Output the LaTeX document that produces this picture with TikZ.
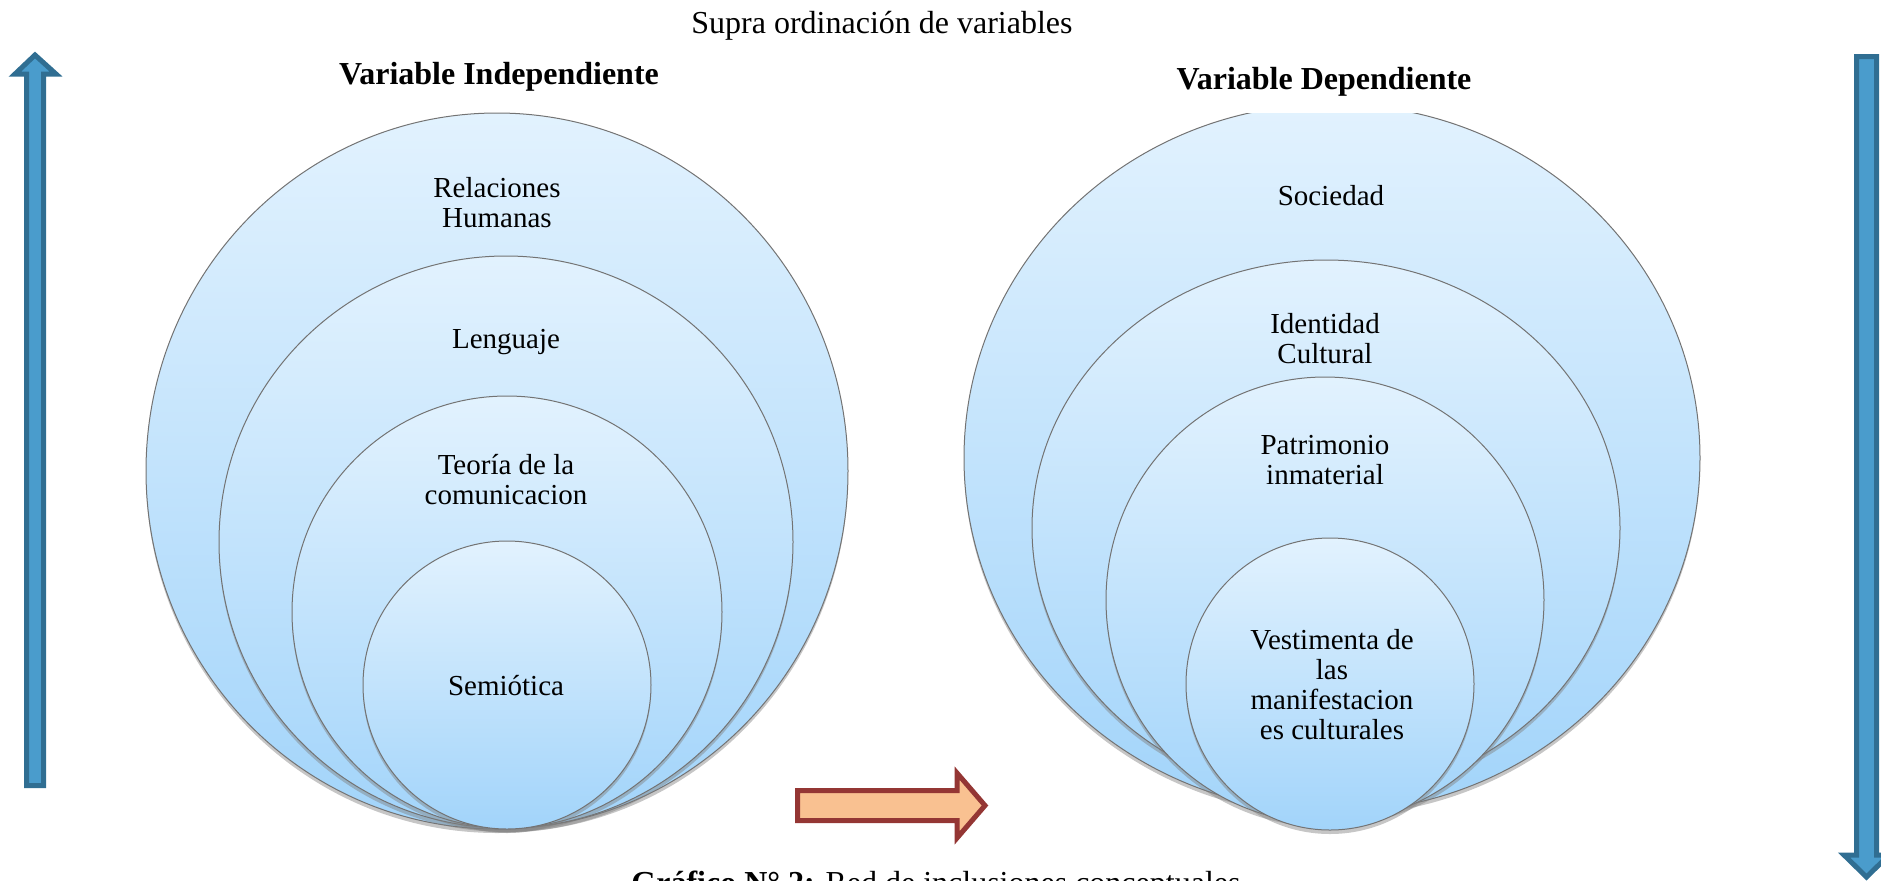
\documentclass[tikz,border=0pt]{standalone}
\usepackage{fontspec}
\setmainfont{Liberation Serif}
\usetikzlibrary{shapes.geometric,shadows}
\definecolor{circtop}{RGB}{226,242,254}
\definecolor{circbot}{RGB}{162,212,250}
\definecolor{circline}{RGB}{115,115,115}
\definecolor{arrblue}{RGB}{74,156,204}
\definecolor{arrblueline}{RGB}{48,110,146}
\definecolor{arrorange}{RGB}{249,193,145}
\definecolor{arrred}{RGB}{148,54,52}
\tikzset{
  circ/.style={ellipse, draw=circline, line width=0.5pt, inner sep=0pt,
    top color=circtop, bottom color=circbot,
    drop shadow={opacity=0.45, shadow xshift=0pt, shadow yshift=-2pt}},
  lbl/.style={align=center, font=\fontsize{14.5}{15}\selectfont, inner sep=0pt},
  ttl/.style={font=\fontsize{16}{18}\selectfont},
  ttlb/.style={font=\fontsize{16}{18}\selectfont\bfseries},
  blockarr/.style={line width=2.5pt, line join=miter}
}

\begin{document}
\begin{tikzpicture}[x=0.5pt,y=-0.5pt]
\useasboundingbox (0,0) rectangle (1881,880);

\node[ttl] (supra) at (882,26) {Supra ordinación de variables};
\node[ttlb] (indep) at (499,77) {Variable Independiente};

% independiente
\node[circ, minimum width=351pt, minimum height=358pt] (c1) at (497,471) {};
\node[circ, minimum width=287pt, minimum height=286pt] (c2) at (506,542) {};
\node[circ, minimum width=215pt, minimum height=216pt] (c3) at (507,612) {};
\node[circ, minimum width=144pt, minimum height=144pt] (c4) at (507,685) {};
\node[lbl] (rel) at (497,203) {Relaciones\\Humanas};
\node[lbl] (len) at (506,342) {Lenguaje};
\node[lbl] (teo) at (506,480) {Teoría de la\\comunicacion};
\node[lbl] (sem) at (506,686) {Semiótica};

% dependiente
\node[circ, minimum width=368pt, minimum height=354pt] (d1) at (1332,458) {};
\node[circ, minimum width=294pt, minimum height=268pt] (d2) at (1326,528) {};
\node[circ, minimum width=219pt, minimum height=223pt] (d3) at (1325,600) {};
\node[circ, minimum width=144pt, minimum height=146pt] (d4) at (1330,684) {};
\node[lbl] (soc) at (1331,196) {Sociedad};
\node[lbl] (ide) at (1325,339) {Identidad\\Cultural};
\node[lbl] (pat) at (1325,460) {Patrimonio\\inmaterial};
\node[lbl] (ves) at (1332,685) {Vestimenta de\\las\\manifestacion\\es culturales};
\node[ttlb, fill=white, minimum height=31pt] (dep) at (1324,82) {Variable Dependiente};

% flechas
\draw[blockarr, draw=arrblueline, fill=arrblue]
  (26.5,785.5) -- (26.5,74) -- (15,74) -- (35,55) -- (56,74) -- (43.5,74) -- (43.5,785.5) -- cycle;
\draw[blockarr, draw=arrblueline, fill=arrblue]
  (1856.5,56.5) -- (1876.5,56.5) -- (1876.5,855) -- (1889,855) -- (1866.5,877) -- (1844,855) -- (1856.5,855) -- cycle;
\draw[blockarr, draw=arrred, fill=arrorange]
  (797.5,790.5) -- (957,790.5) -- (957,773) -- (985,805.5) -- (957,838) -- (957,820.5) -- (797.5,820.5) -- cycle;

\node[ttl, anchor=base] (cap) at (936,893) {\textbf{Gráfico N° 2:} Red de inclusiones conceptuales};
\end{tikzpicture}
\end{document}
